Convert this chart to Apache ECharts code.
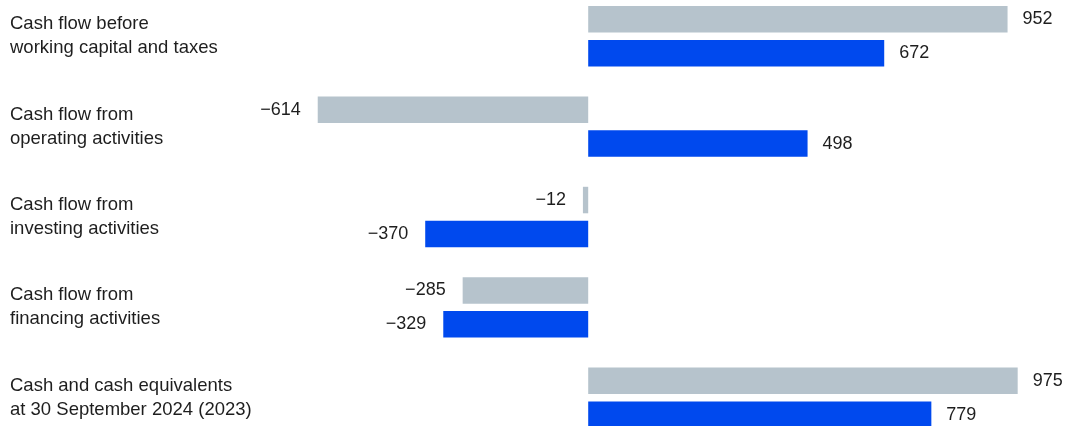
<!DOCTYPE html>
<html>
<head>
<meta charset="utf-8">
<script src="https://cdn.jsdelivr.net/npm/echarts@6/dist/echarts.min.js"></script>
<style>
html,body{margin:0;padding:0;background:#fff;overflow:hidden;}
#chart{width:1077px;height:452px;margin-top:-9px;}
</style>
</head>
<body>
<div id="chart"></div>
<script>
const categories = [
  "Cash flow before\nworking capital and taxes",
  "Cash flow from\noperating activities",
  "Cash flow from\ninvesting activities",
  "Cash flow from\nfinancing activities",
  "Cash and cash equivalents\nat 30 September 2024 (2023)"
];
const values2023 = [952, -614, -12, -285, 975];
const values2024 = [672, 498, -370, -329, 779];

const FONT = '"Liberation Sans", Arial, Helvetica, sans-serif';
const TEXT = '#1e1e1e';

function toData(arr) {
  return arr.map(v => ({
    value: v,
    label: v < 0 ? { position: 'left', distance: 17 } : { position: 'right', distance: 15 }
  }));
}
function fmt(p) {
  const v = p.value;
  return v < 0 ? '\u2212' + Math.abs(v) : String(v);
}

const chart = echarts.init(document.getElementById('chart'), null, {renderer: 'canvas', width: 1077, height: 452});
chart.setOption({
  animation: false,
  backgroundColor: '#ffffff',
  grid: { left: 147.7, width: 881, top: 0, height: 452, containLabel: false },
  xAxis: {
    type: 'value', min: -1000, max: 1000,
    show: false, splitLine: { show: false }
  },
  yAxis: {
    type: 'category', data: categories, inverse: true,
    axisLine: { show: false }, axisTick: { show: false },
    axisLabel: {
      align: 'left', margin: 137.7,
      fontFamily: FONT, fontSize: 18.5, lineHeight: 24, color: TEXT
    }
  },
  series: [
    {
      name: '2023', type: 'bar', data: toData(values2023),
      barWidth: 26.5, barGap: '28%',
      itemStyle: { color: '#b6c3cc' },
      label: { show: true, formatter: fmt, fontFamily: FONT, fontSize: 18, color: TEXT }
    },
    {
      name: '2024', type: 'bar', data: toData(values2024),
      barWidth: 26.5, barGap: '28%',
      itemStyle: { color: '#0049ee' },
      label: { show: true, formatter: fmt, fontFamily: FONT, fontSize: 18, color: TEXT }
    }
  ]
});
</script>
</body>
</html>
